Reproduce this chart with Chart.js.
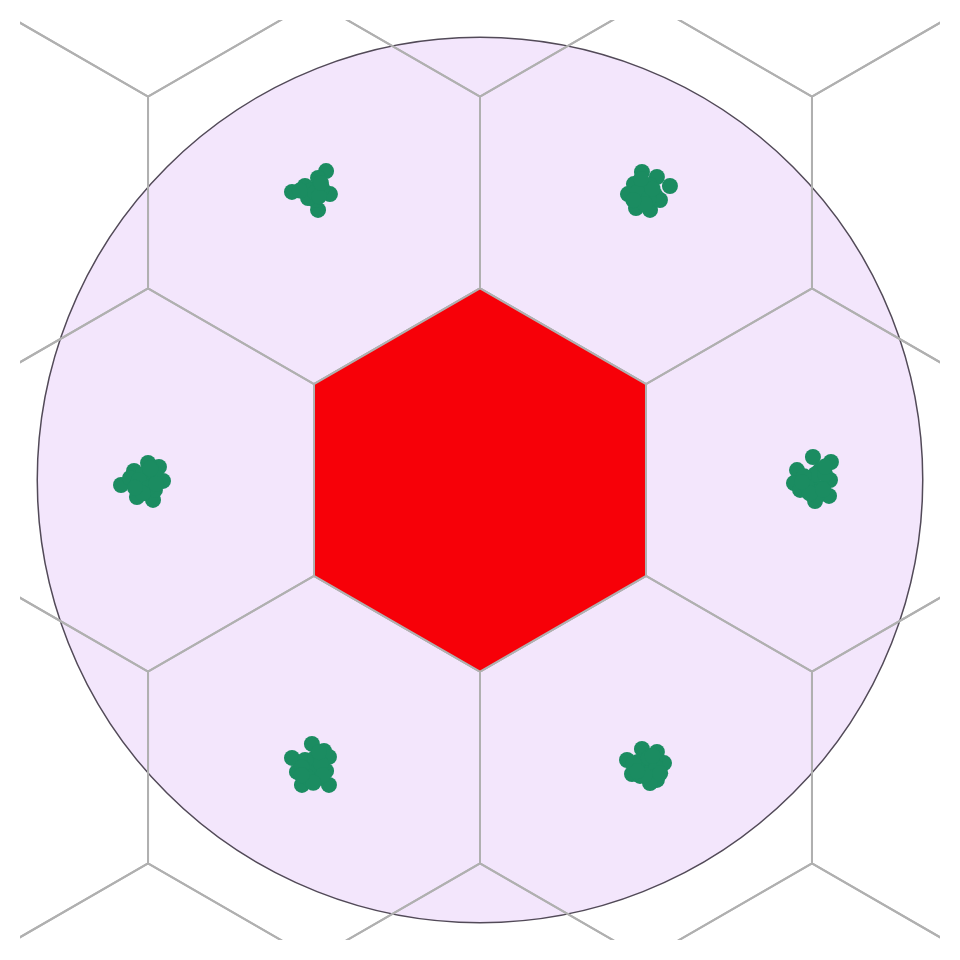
<!DOCTYPE html>
<html>
<head>
<meta charset="utf-8">
<script src="https://cdn.jsdelivr.net/npm/chart.js@4"></script>
<style>
  body { margin: 0; background: #fff; }
  #wrap { width: 960px; height: 960px; }
</style>
</head>
<body>
<div id="wrap"><canvas id="hexChart" width="960" height="960"></canvas></div>
<script>
// cluster points (hex circumradius = 1 unit)
const clusterX = [
  -0.803, -0.845, -0.981, -0.783, -0.845, -0.913, -0.877, -0.861, -0.824, -0.897,
  -0.86, -0.84, -0.83, -0.94,
  0.845, 0.923, 0.991, 0.803, 0.772, 0.814, 0.887, 0.939, 0.861, 0.887, 0.835, 0.913,
  0.85, 0.82, 0.88, 0.86, 0.90, 0.80, 0.84,
  -1.873, -1.790, -1.706, -1.654, -1.675, -1.732, -1.805, -1.826, -1.748, -1.722, -1.774, -1.696,
  -1.76, -1.78, -1.73, -1.70, -1.76, -1.80, -1.69, -1.72,
  1.737, 1.831, 1.654, 1.638, 1.670, 1.748, 1.821, 1.826, 1.732, 1.774, 1.711, 1.784,
  1.75, 1.69, 1.76, 1.80, 1.72, 1.79, 1.68, 1.80,
  -0.877, -0.981, -0.814, -0.788, -0.788, -0.929, -0.955, -0.803, -0.887, -0.913, -0.845, -0.861,
  -0.86, -0.83, -0.93, -0.90, -0.82, -0.87, -0.84, -0.93,
  0.767, 0.845, 0.923, 0.960, 0.923, 0.887, 0.793, 0.861, 0.824, 0.897, 0.835, 0.913,
  0.80, 0.88, 0.92, 0.86, 0.82, 0.90, 0.94
];
const clusterY = [
  1.612, 1.576, 1.503, 1.492, 1.409, 1.534, 1.513, 1.461, 1.523, 1.471,
  1.50, 1.48, 1.55, 1.51,
  1.607, 1.581, 1.534, 1.544, 1.492, 1.419, 1.409, 1.461, 1.503, 1.539, 1.461, 1.487,
  1.52, 1.50, 1.47, 1.44, 1.52, 1.46, 1.57,
  -0.026, -0.089, -0.104, -0.005, 0.068, 0.089, 0.047, 0.010, -0.010, 0.026, -0.042, -0.052,
  0.03, 0.00, -0.04, 0.04, -0.07, -0.04, -0.02, 0.06,
  0.120, 0.094, 0.052, -0.016, -0.052, -0.110, -0.083, 0.000, 0.010, 0.052, -0.042, -0.042,
  0.03, 0.02, -0.08, 0.03, -0.07, -0.05, -0.01, 0.07,
  -1.377, -1.450, -1.414, -1.445, -1.591, -1.591, -1.523, -1.518, -1.487, -1.461, -1.555, -1.513,
  -1.45, -1.48, -1.50, -1.55, -1.54, -1.58, -1.42, -1.54,
  -1.461, -1.403, -1.419, -1.477, -1.565, -1.581, -1.534, -1.487, -1.471, -1.513, -1.544, -1.461,
  -1.48, -1.45, -1.50, -1.54, -1.52, -1.44, -1.53
];
const hexRows = [-3, -2, -1, 0, 1, 2, 3];
const hexCols = [-4, -3, -2, -1, 0, 1, 2, 3, 4];
const circleRadius = 2.31;
const axisMin = -2.4, axisMax = 2.4;

const SQ3 = Math.sqrt(3);

function hexOutline(cx, cy) {
  const pts = [];
  for (let k = 0; k <= 6; k++) {
    const a = (90 - 60 * k) * Math.PI / 180;
    pts.push({ x: cx + Math.cos(a), y: cy + Math.sin(a) });
  }
  return pts;
}

const points = clusterX.map((x, i) => ({ x: x, y: clusterY[i] }));

let datasets = [{
  type: 'scatter',
  data: points,
  pointBackgroundColor: '#1b8c61',
  pointBorderColor: '#1b8c61',
  pointBorderWidth: 0,
  pointRadius: 8,
  order: 0
}, {
  type: 'line',
  data: hexOutline(0, 0),
  borderColor: '#b0b0b0',
  borderWidth: 2,
  backgroundColor: '#f70008',
  fill: 'shape',
  pointRadius: 0,
  tension: 0,
  order: 1
}];

hexRows.forEach(r => {
  hexCols.forEach(q => {
    const cx = SQ3 * (q + r / 2), cy = 1.5 * r;
    if (Math.abs(cx) > 3.6) return;
    datasets.push({
      type: 'line',
      data: hexOutline(cx, cy),
      borderColor: '#b0b0b0',
      borderWidth: 2,
      fill: false,
      pointRadius: 0,
      tension: 0,
      order: 2
    });
  });
});

// lavender disc under the grid
const discPlugin = {
  id: 'disc',
  beforeDatasetsDraw(chart) {
    const { ctx, scales: { x, y } } = chart;
    const cx = x.getPixelForValue(0), cy = y.getPixelForValue(0);
    const rad = x.getPixelForValue(circleRadius) - cx;
    ctx.save();
    ctx.beginPath();
    ctx.arc(cx, cy, rad, 0, Math.PI * 2);
    ctx.fillStyle = '#f3e6fc';
    ctx.fill();
    ctx.lineWidth = 1.5;
    ctx.strokeStyle = '#524a58';
    ctx.stroke();
    ctx.restore();
  }
};

new Chart(document.getElementById('hexChart'), {
  type: 'scatter',
  data: { datasets: datasets },
  options: {
    responsive: false,
    animation: false,
    layout: { padding: 20 },
    plugins: { legend: { display: false }, tooltip: { enabled: false } },
    scales: {
      x: { type: 'linear', min: axisMin, max: axisMax, display: false },
      y: { type: 'linear', min: axisMin, max: axisMax, display: false }
    }
  },
  plugins: [discPlugin]
});
</script>
</body>
</html>
